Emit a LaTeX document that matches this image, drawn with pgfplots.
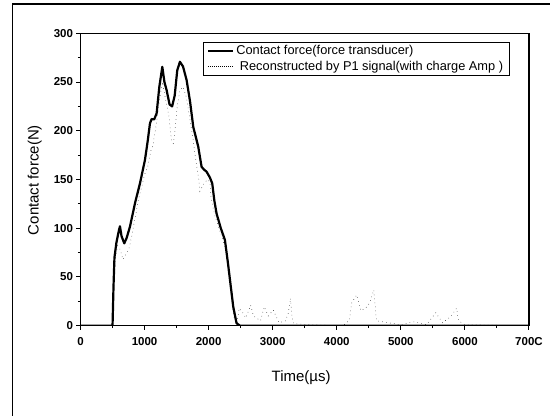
\documentclass[border=0pt]{standalone}
\usepackage{fontspec}
\setmainfont{Liberation Sans}
\usepackage{pgfplots}
\pgfplotsset{compat=1.18}

\begin{document}
\begin{tikzpicture}
\path[use as bounding box] (0pt,0pt) rectangle (550pt,417pt);
% outer frame (left and top edges of the scanned figure)
\draw[line width=1.4pt] (12.5pt,1pt) -- (12.5pt,413pt) -- (550pt,413pt);
\begin{axis}[
  at={(80.5pt,91.3pt)}, anchor=south west,
  scale only axis, width=448.5pt, height=292.4pt,
  xmin=0, xmax=7000, ymin=0, ymax=300,
  xtick={0,1000,...,7000},
  xticklabels={0,1000,2000,3000,4000,5000,6000,700C},
  ytick={0,50,...,300},
  minor tick num=1,
  tick align=outside,
  xtick pos=left, ytick pos=left,
  major tick length=4pt, minor tick length=2.5pt,
  axis line style={line width=1.4pt},
  tick style={line width=1pt, black},
  scaled x ticks=false,
  /pgf/number format/assume math mode=true,
  /pgf/number format/set thousands separator={},
  tick label style={font=\fontsize{11.5}{13}\selectfont\bfseries},
  xticklabel style={yshift=-4pt},
  xlabel={Time(µs)},
  ylabel={Contact force(N)},
  label style={font=\fontsize{15}{17}\selectfont},
  xlabel style={at={(axis description cs:0.492,-0.179)}, anchor=center},
  ylabel style={at={(axis description cs:-0.102,0.498)}, anchor=center},
  legend style={at={(0.273,0.97)}, anchor=north west,
    font=\fontsize{12.8}{14}\selectfont, draw=black,
    inner xsep=4pt, inner ysep=1pt, row sep=1pt},
  legend cell align=left,
]
\addplot[black, line width=2.2pt, line join=round,
  legend image code/.code={\draw[black, line width=2.2pt] (0pt,0pt) -- (25pt,0pt);}] coordinates {
(0,0) (490,0) (500,0) (515,40) (530,70) (560,85) (600,98) (616,102)
(640,92) (683,84.5) (720,90) (772,101.6) (850,125.5) (928,146) (1006,170)
(1050,190) (1084,207.6) (1110,212) (1150,211.7) (1188,217.8) (1230,245)
(1277,265.6) (1310,250) (1344,241.7) (1390,227) (1430,225) (1470,236)
(1510,262) (1552,270.8) (1600,266) (1656,252) (1710,230) (1760,204)
(1838,183.6) (1890,163) (1930,160) (1968,158) (2020,152) (2056,146)
(2090,128) (2124,115) (2190,100) (2254,88) (2300,65) (2384,19.5)
(2436,2.5) (2490,0) (7000,0)
};
\addlegendentry{Contact force(force transducer)}
\addplot[black, line width=0.5pt, dash pattern=on 0.5pt off 3.5pt,
  legend image code/.code={\draw[black, line width=0.5pt, dash pattern=on 0.5pt off 1.5pt] (0pt,0pt) -- (25pt,0pt);}] coordinates {
(0,0) (500,0) (520,40) (545,70) (580,82) (620,78) (660,68) (700,72)
(760,80) (800,92) (850,110) (900,128) (955,142.6) (1000,155) (1048,163)
(1100,180) (1126,183.6) (1180,205) (1241,235) (1280,250) (1320,235)
(1380,215) (1420,190) (1448,187) (1470,197) (1510,225) (1552,241.7)
(1600,245) (1650,235) (1700,215) (1760,190) (1810,165) (1849,149)
(1864,138) (1920,145) (1980,150) (2020,147.7) (2040,130) (2100,112)
(2160,100) (2220,88) (2260,80) (2300,60) (2360,25) (2400,8) (2440,2)
(2477,17.8) (2510,15) (2540,12.7) (2580,8) (2655,21) (2700,10) (2810,5)
(2868,19.5) (2930,10) (3008,16) (3100,3) (3200,5) (3242,12.7) (3279,28)
(3300,9.6) (3330,2) (3600,1) (4100,0) (4200,6) (4231,23) (4309,31.5)
(4376,15.4) (4450,18) (4516,23.6) (4578,36.6) (4620,5) (5000,1) (5200,4)
(5400,1) (5546,13.3) (5650,3) (5776,9.2) (5869,17.8) (5900,5) (6000,1)
(7000,0)
};
\addlegendentry{\ Reconstructed by P1 signal(with charge Amp )}
\end{axis}
\end{tikzpicture}
\end{document}
